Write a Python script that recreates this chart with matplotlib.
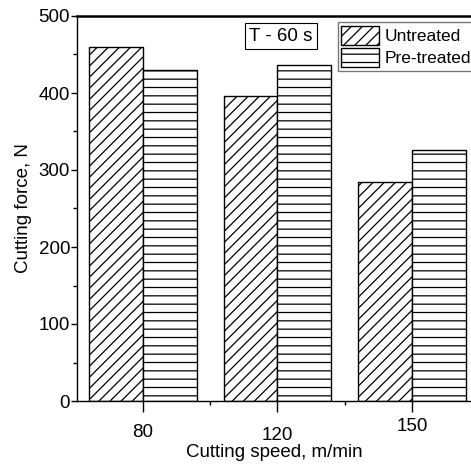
import numpy as np
import matplotlib.pyplot as plt
from matplotlib.ticker import MultipleLocator

plt.rcParams['font.family'] = ['Liberation Sans', 'DejaVu Sans']
plt.rcParams['hatch.linewidth'] = 0.9

speeds = ["80", "120", "150"]
untreated = [460, 396, 285]
pretreated = [430, 437, 326]
label_offsets = [0, -3, 6]  # px, reference labels sit at slightly different heights

FS = 13.5

fig = plt.figure(figsize=(4.71, 4.65), dpi=100)
ax = fig.add_axes([77 / 471, 64 / 465, 1 - 77 / 471, 385 / 465])

x = np.arange(len(speeds))
w = 0.4
ax.bar(x - w / 2, untreated, w, facecolor="white", edgecolor="black",
       hatch="///", linewidth=1.0, label="Untreated")
ax.bar(x + w / 2, pretreated, w, facecolor="white", edgecolor="black",
       hatch="--", linewidth=1.0, label="Pre-treated")

ax.set_xlim(-0.49, 2.44)
ax.set_ylim(0, 500)
ax.spines["right"].set_visible(False)
ax.spines["top"].set_linewidth(1.8)
for s in ("left", "bottom"):
    ax.spines[s].set_linewidth(1.0)

ax.yaxis.set_major_locator(MultipleLocator(100))
ax.yaxis.set_minor_locator(MultipleLocator(50))
ax.tick_params(axis="y", which="major", direction="out", length=4, width=1, labelsize=FS, pad=1)
ax.tick_params(axis="y", which="minor", direction="out", length=3, width=1)

ax.set_xticks(x)
ax.xaxis.set_minor_locator(MultipleLocator(0.5))
ax.tick_params(axis="x", which="major", direction="out", length=8, width=1, labelbottom=False)
ax.tick_params(axis="x", which="minor", direction="out", length=3, width=1)

for xi, lab, off in zip(x, speeds, label_offsets):
    ax.annotate(lab, (xi, 0), xycoords=("data", "axes fraction"),
                xytext=(0, (-31 + off) * 0.72), textcoords="offset points",
                ha="center", va="center", fontsize=FS)

ax.set_xlabel("Cutting speed, m/min", fontsize=FS, labelpad=23)
ax.set_ylabel("Cutting force, N", fontsize=FS, labelpad=5)

ax.text(0.518, 0.948, "T - 60 s", transform=ax.transAxes, ha="center", va="center",
        fontsize=FS, bbox=dict(boxstyle="square,pad=0.25", facecolor="white",
                               edgecolor="black", linewidth=0.8))

leg = ax.legend(loc="upper left", bbox_to_anchor=(0.662, 0.984), fontsize=12.5,
                frameon=True, fancybox=False, handlelength=2.2, handleheight=1.35,
                handletextpad=0.3, borderpad=0.2, labelspacing=0.15, borderaxespad=0)
leg.get_frame().set_edgecolor("#555555")
leg.get_frame().set_linewidth(1.0)

fig.savefig("out.png", dpi=100)
